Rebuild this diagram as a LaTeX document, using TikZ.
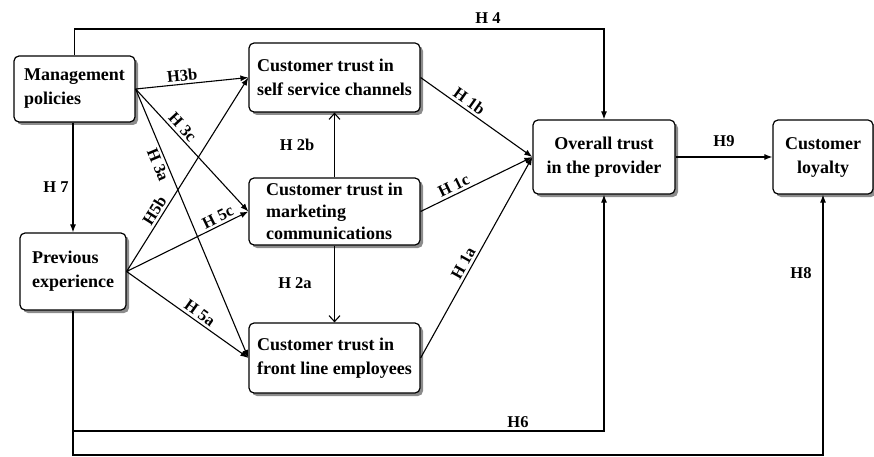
\documentclass[tikz,border=0pt]{standalone}
\usepackage{fontspec}
\setmainfont{Liberation Serif}
\usetikzlibrary{arrows.meta,shadows,calc}
\begin{document}
\begin{tikzpicture}[x=1pt,y=-1pt,
  box/.style={draw,line width=1.2pt,rounded corners=5pt,fill=white,
    drop shadow={shadow xshift=3pt,shadow yshift=-3pt,fill=black!45,opacity=1},
    font=\fontsize{18}{24}\selectfont\bfseries,inner sep=0pt},
  lbl/.style={font=\fontsize{16.5}{18}\selectfont\bfseries,inner sep=2.5pt},
  conn/.style={line width=1.1pt,-{Latex[length=8pt,width=6pt]}},
  openconn/.style={line width=1.1pt,-{Straight Barb[length=6pt,width=11pt]}},
  plain/.style={line width=1.1pt}]
\useasboundingbox (0,0) rectangle (874,457);
% boxes
\node[box,minimum width=121pt,minimum height=66pt,align=left] (mgmt) at (74.5,89) {Management\\policies};
\node[box,minimum width=106pt,minimum height=77pt,align=left] (prev) at (73,271.5) {Previous\\experience};
\node[box,minimum width=171pt,minimum height=69pt,align=left] (self) at (334.5,77.5) {Customer trust in\\self service channels};
\node[box,minimum width=171pt,minimum height=67pt,align=left,font=\fontsize{18}{22}\selectfont\bfseries] (mkt) at (334.5,211.5) {Customer trust in\\marketing\\communications};
\node[box,minimum width=171pt,minimum height=70pt,align=left] (front) at (334.5,358) {Customer trust in\\front line employees};
\node[box,minimum width=142pt,minimum height=74pt,align=center] (overall) at (604,157) {Overall trust\\in the provider};
\node[box,minimum width=100pt,minimum height=74pt,align=center] (loyal) at (823,157) {Customer\\loyalty};
% helper coordinates
\coordinate (h4top) at (74.5,29);
\coordinate (h6c) at (73,431);
\coordinate (h8c) at (73,455);
% H4
\draw[conn] (mgmt.north) -- (h4top) -| (overall.north);
\node[lbl] (lh4) at (488,18) {H 4};
% H7
\draw[conn] (mgmt.south -| prev.north) -- (prev.north);
\node[lbl] (lh7) at (56,187) {H 7};
% H3
\draw[conn] (mgmt.east) -- node[lbl,sloped,above,pos=0.42] (lh3b) {H3b} (self.west);
\draw[conn] (mgmt.east) -- node[lbl,sloped,above,pos=0.36] (lh3c) {H 3c} (mkt.west);
\draw[conn] (mgmt.east) -- node[lbl,sloped,below,pos=0.27] (lh3a) {H 3a} (front.west);
% H5
\draw[conn] (prev.east) -- node[lbl,sloped,above,pos=0.29] (lh5b) {H5b} (self.west);
\draw[conn] (prev.east) -- node[lbl,sloped,above,pos=0.78] (lh5c) {H 5c} (mkt.west);
\draw[conn] (prev.east) -- node[lbl,sloped,above,pos=0.56] (lh5a) {H 5a} (front.west);
% H2
\draw[openconn] (mkt.north) -- (self.south);
\node[lbl] (lh2b) at (297,145) {H 2b};
\draw[openconn] (mkt.south) -- (front.north);
\node[lbl] (lh2a) at (295,283) {H 2a};
% H1
\draw[conn] (self.east) -- node[lbl,sloped,above,pos=0.39] (lh1b) {H 1b} (overall.west);
\draw[conn] (mkt.east) -- node[lbl,sloped,above,pos=0.33] (lh1c) {H 1c} (overall.west);
\draw[conn] (front.east) -- node[lbl,sloped,above,pos=0.45] (lh1a) {H 1a} (overall.west);
% H9
\draw[conn] (overall.east) -- (loyal.west);
\node[lbl] (lh9) at (724,141) {H9};
% H6 and H8
\draw[conn] (prev.south) -- (h6c) -| (overall.south);
\node[lbl] (lh6) at (518,422) {H6};
\draw[conn] (h6c) -- (h8c) -| (loyal.south);
\node[lbl] (lh8) at (801,273) {H8};
\end{tikzpicture}
\end{document}
